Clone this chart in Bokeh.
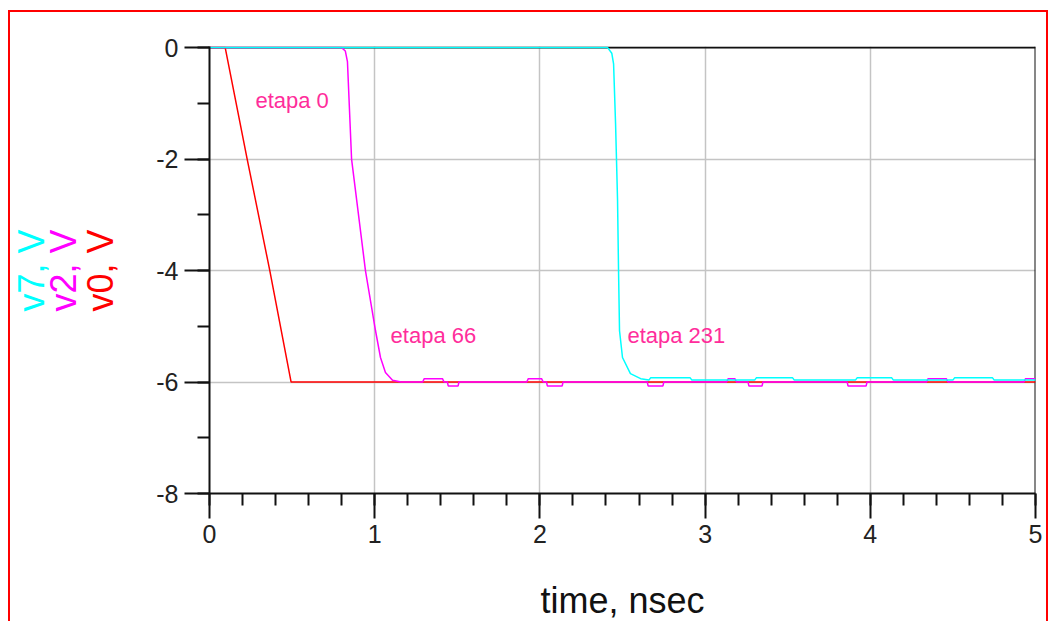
from bokeh.plotting import figure
from bokeh.models import (Label, Span, SingleIntervalTicker, Range1d)
from bokeh.embed import file_html
from bokeh.resources import INLINE
from math import pi

# ---- data ----
# v0 (red)
v0_t = [0.0, 0.095, 0.228, 0.365, 0.494, 5.0]
v0_v = [0.0, 0.0, -2.0, -4.0, -6.0, -6.0]

# v2 (magenta)
v2_t = [0.0, 0.80, 0.822, 0.835, 0.86, 0.944, 1.005, 1.035, 1.065, 1.108, 1.16,
        1.29, 1.30, 1.41, 1.42,
        1.44, 1.445, 1.505, 1.51,
        1.92, 1.93, 2.01, 2.02,
        2.04, 2.045, 2.135, 2.14,
        2.65, 2.655, 2.745, 2.75,
        3.13, 3.14, 3.18, 3.19,
        3.26, 3.265, 3.345, 3.35,
        3.86, 3.865, 3.975, 3.98,
        4.34, 4.35, 4.46, 4.47,
        4.93, 4.94, 5.0]
v2_v = [0.0, 0.0, -0.06, -0.25, -2.0, -4.0, -5.08, -5.56, -5.83, -5.97, -6.0,
        -6.0, -5.94, -5.94, -6.0,
        -6.0, -6.07, -6.07, -6.0,
        -6.0, -5.94, -5.94, -6.0,
        -6.0, -6.07, -6.07, -6.0,
        -6.0, -6.07, -6.07, -6.0,
        -6.0, -5.94, -5.94, -6.0,
        -6.0, -6.07, -6.07, -6.0,
        -6.0, -6.07, -6.07, -6.0,
        -6.0, -5.94, -5.94, -6.0,
        -6.0, -5.94, -5.94]

# v7 (cyan)
v7_t = [0.0, 2.41, 2.435, 2.446, 2.458, 2.47, 2.476, 2.482, 2.50, 2.548, 2.61, 2.66,
        2.67, 2.91, 2.92,
        3.30, 3.31, 3.53, 3.54,
        3.91, 3.92, 4.13, 4.14,
        4.50, 4.51, 4.74, 4.75, 5.0]
v7_v = [0.0, 0.0, -0.1, -0.29, -1.36, -2.74, -4.0, -5.08, -5.56, -5.85, -5.94, -5.965,
        -5.925, -5.925, -5.965,
        -5.965, -5.925, -5.925, -5.965,
        -5.965, -5.925, -5.925, -5.965,
        -5.965, -5.925, -5.925, -5.965, -5.965]

notes = ["etapa 0", "etapa 66", "etapa 231"]
notes_x = [0.278, 1.096, 2.53]
notes_y = [-0.95, -5.17, -5.17]

y_ticks = [-8, -6, -4, -2, 0]
y_tick_labels = ["-8", "-6", "-4", "-2", "0"]

# y titles, listed from the axis outward
y_labels = ["v0, V", "v2, V", "v7, V"]
y_label_colors = ["#FF0000", "#FF00FF", "#00FFFF"]

FONT = "Liberation Sans"

# canvas sits inside a red frame: 8px from the left, 10px from the top
p = figure(width=1040, height=611, output_backend="svg", toolbar_location=None,
           x_range=Range1d(0, 5), y_range=Range1d(-8, 0.02),
           min_border_left=199, min_border_right=15, min_border_top=34,
           min_border_bottom=130, background_fill_color="white",
           border_fill_color="white", margin=(10, 0, 0, 8),
           styles={"border-left": "2px solid #FF0000",
                   "border-top": "2px solid #FF0000",
                   "border-right": "2px solid #FF0000"})
p.outline_line_color = None

for ax in (p.xaxis[0], p.yaxis[0]):
    ax.axis_line_color = "#111111"
    ax.axis_line_width = 2
    ax.major_tick_line_color = "#111111"
    ax.major_tick_line_width = 2
    ax.minor_tick_line_color = "#111111"
    ax.minor_tick_line_width = 2
    ax.major_tick_in = 0
    ax.minor_tick_in = 0
    ax.major_tick_out = 25
    ax.minor_tick_out = 12
    ax.major_label_text_font = FONT
    ax.major_label_text_font_size = "25px"
    ax.major_label_text_color = "#222222"

p.xaxis[0].ticker = SingleIntervalTicker(interval=1, num_minor_ticks=5)
p.yaxis[0].ticker = SingleIntervalTicker(interval=2, num_minor_ticks=2)
p.yaxis[0].major_label_overrides = {t: s for t, s in zip(y_ticks, y_tick_labels)}
p.xaxis[0].major_label_standoff = 6
p.yaxis[0].major_label_standoff = 6

p.xaxis[0].axis_label = "time, nsec"
p.xaxis[0].axis_label_text_font = FONT
p.xaxis[0].axis_label_text_font_size = "36px"
p.xaxis[0].axis_label_text_font_style = "normal"
p.xaxis[0].axis_label_text_color = "#111111"
p.xaxis[0].axis_label_standoff = 34

p.xgrid.ticker = SingleIntervalTicker(interval=1)
p.ygrid.ticker = SingleIntervalTicker(interval=2)
for g in (p.xgrid[0], p.ygrid[0]):
    g.grid_line_color = "#C4C4C4"
    g.grid_line_width = 1.5

# black top and right borders beneath the curves
p.add_layout(Span(location=0, dimension="width", line_color="#111111",
                  line_width=2, level="underlay"))
p.add_layout(Span(location=5, dimension="height", line_color="#111111",
                  line_width=2, level="underlay"))

p.line(v0_t, v0_v, line_color="#FF0000", line_width=1.5)
p.line(v2_t, v2_v, line_color="#FF00FF", line_width=1.5)
p.line(v7_t, v7_v, line_color="#00FFFF", line_width=1.5)

for txt, x, y in zip(notes, notes_x, notes_y):
    p.add_layout(Label(x=x, y=y, text=txt, text_font=FONT, text_font_size="22px",
                       text_color="#FF2D9B", text_align="left",
                       text_baseline="middle"))

# vertical, coloured y titles placed in the left side panel
y_label_x = [-12, -8, 1]
for txt, col, sx in zip(y_labels, y_label_colors, y_label_x):
    p.add_layout(Label(x=sx, y=223, x_units="screen", y_units="screen", text=txt,
                       angle=pi / 2, text_font=FONT, text_font_size="36px",
                       text_color=col, text_align="center", text_baseline="middle"),
                 "left")

open("out.html", "w").write(file_html(p, INLINE))
